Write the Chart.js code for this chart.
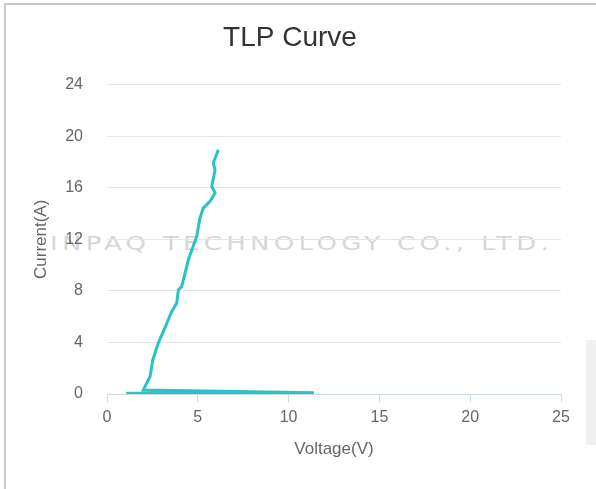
<!DOCTYPE html>
<html>
<head>
<meta charset="utf-8">
<script src="https://cdn.jsdelivr.net/npm/chart.js@4/dist/chart.umd.min.js"></script>
<style>
  html, body { margin: 0; padding: 0; background: #fff; }
  body { width: 596px; height: 489px; position: relative; overflow: hidden; }
  .frame { position: absolute; left: 4px; top: 3px; right: 0; bottom: 0;
           border-top: 2px solid #c8c8c8; border-left: 2px solid #c8c8c8; }
  .watermark { position: absolute; left: 50px; top: 231px; white-space: nowrap;
               font-family: "DejaVu Sans", sans-serif; font-size: 20px; letter-spacing: 3.3px;
               color: #d6d6d6; transform: scaleX(1.3); transform-origin: left top; }
  .side { position: absolute; left: 586px; top: 340px; width: 10px; height: 105px; background: #f0f0f0; }
  #wrap { position: absolute; left: 6px; top: 5px; width: 574px; height: 484px; }
</style>
</head>
<body>
<div class="frame"></div>
<div class="side"></div>
<div class="watermark">INPAQ TECHNOLOGY CO., LTD.</div>
<div id="wrap"><canvas id="tlp"></canvas></div>
<script>
// data (Voltage dalam V, Current dalam A)
const voltage = [1.05, 2.0, 11.4, 2.0, 2.09, 2.37, 2.52, 2.82, 3.10, 3.56, 3.84, 3.93, 4.11, 4.30, 4.48, 4.94, 5.12, 5.30, 5.67, 5.95, 5.77, 5.95, 5.85, 6.13];
const current = [0.06, 0.07, 0.10, 0.31, 0.57, 1.34, 2.64, 3.94, 4.84, 6.39, 7.05, 8.08, 8.33, 9.37, 10.41, 12.22, 13.65, 14.42, 14.94, 15.59, 16.10, 17.40, 17.92, 18.95];

const xTicks = [0, 5, 10, 15, 20, 25];
const yTicks = [0, 4, 8, 12, 16, 20, 24];

const points = voltage.map((v, i) => ({ x: v, y: current[i] }));

const labelFont = { family: "'Liberation Sans', Arial, sans-serif", size: 16 };
const titleFont = { family: "'Liberation Sans', Arial, sans-serif", size: 17 };

new Chart(document.getElementById('tlp'), {
    type: 'line',
    data: {
        datasets: [{
            label: 'TLP',
            data: points,
            borderColor: '#27c3c6',
            borderWidth: 3,
            pointRadius: 0,
            tension: 0,
            fill: false
        }]
    },
    options: {
        responsive: true,
        maintainAspectRatio: false,
        animation: false,
        layout: { padding: { left: 13, right: 19, top: 0, bottom: 0 } },
        plugins: {
            legend: { display: false },
            tooltip: { enabled: false },
            title: {
                display: true,
                text: 'TLP Curve',
                color: '#333333',
                font: { family: "'Liberation Sans', Arial, sans-serif", size: 28, weight: 'normal' },
                padding: { top: 16, bottom: 30 }
            }
        },
        scales: {
            x: {
                type: 'linear',
                min: xTicks[0],
                max: xTicks[xTicks.length - 1],
                afterBuildTicks: s => { s.ticks = xTicks.map(v => ({ value: v })); },
                afterFit: s => { s.height = 95; },
                grid: { drawOnChartArea: false, drawTicks: true, tickLength: 8, color: '#ccd6eb' },
                border: { display: true, color: '#ccd6eb', width: 1 },
                ticks: { color: '#666666', font: labelFont, padding: 6, maxRotation: 0 },
                title: { display: true, text: 'Voltage(V)', color: '#666666', font: titleFont, padding: { top: 0, bottom: 29 } }
            },
            y: {
                type: 'linear',
                min: yTicks[0],
                max: yTicks[yTicks.length - 1],
                afterBuildTicks: s => { s.ticks = yTicks.map(v => ({ value: v })); },
                afterFit: s => { s.width = 88; },
                grid: { color: '#e6e6e6', drawTicks: false },
                border: { display: false },
                ticks: { color: '#666666', font: labelFont, padding: 24 },
                title: { display: true, text: 'Current(A)', color: '#666666', font: titleFont, padding: { top: 12, bottom: 0 } }
            }
        }
    }
});
</script>
</body>
</html>
